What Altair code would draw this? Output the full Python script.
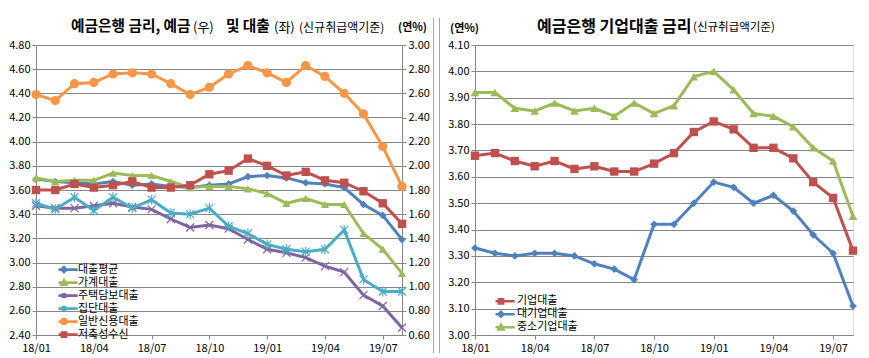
import altair as alt
import pandas as pd

months = ["18/01", "18/02", "18/03", "18/04", "18/05", "18/06", "18/07", "18/08", "18/09", "18/10",
          "18/11", "18/12", "19/01", "19/02", "19/03", "19/04", "19/05", "19/06", "19/07", "19/08"]
tick_months = ["18/01", "18/04", "18/07", "18/10", "19/01", "19/04", "19/07"]

# left panel (loans on left axis, deposits on right axis)
loan_avg = [3.69, 3.67, 3.66, 3.65, 3.67, 3.64, 3.65, 3.63, 3.62, 3.64, 3.65, 3.71, 3.72, 3.70, 3.66, 3.65, 3.62, 3.48, 3.39, 3.19]
household = [3.70, 3.67, 3.68, 3.68, 3.74, 3.72, 3.72, 3.67, 3.62, 3.63, 3.63, 3.61, 3.57, 3.49, 3.53, 3.48, 3.48, 3.24, 3.11, 2.91]
mortgage = [3.47, 3.45, 3.45, 3.47, 3.49, 3.46, 3.44, 3.36, 3.29, 3.31, 3.28, 3.19, 3.11, 3.08, 3.04, 2.97, 2.92, 2.73, 2.64, 2.46]
group_loan = [3.49, 3.44, 3.54, 3.43, 3.54, 3.45, 3.52, 3.41, 3.40, 3.45, 3.30, 3.24, 3.15, 3.11, 3.09, 3.11, 3.27, 2.86, 2.76, 2.76]
credit_loan = [4.39, 4.34, 4.48, 4.49, 4.56, 4.57, 4.56, 4.48, 4.39, 4.45, 4.56, 4.63, 4.57, 4.49, 4.63, 4.54, 4.40, 4.23, 3.96, 3.63]
savings = [1.80, 1.80, 1.85, 1.82, 1.84, 1.87, 1.82, 1.82, 1.84, 1.93, 1.96, 2.06, 2.00, 1.92, 1.95, 1.88, 1.86, 1.79, 1.69, 1.52]

# right panel (corporate loans)
corp = [3.68, 3.69, 3.66, 3.64, 3.66, 3.63, 3.64, 3.62, 3.62, 3.65, 3.69, 3.77, 3.81, 3.78, 3.71, 3.71, 3.67, 3.58, 3.52, 3.32]
large_corp = [3.33, 3.31, 3.30, 3.31, 3.31, 3.30, 3.27, 3.25, 3.21, 3.42, 3.42, 3.50, 3.58, 3.56, 3.50, 3.53, 3.47, 3.38, 3.31, 3.11]
sme = [3.92, 3.92, 3.86, 3.85, 3.88, 3.85, 3.86, 3.83, 3.88, 3.84, 3.87, 3.98, 4.00, 3.93, 3.84, 3.83, 3.79, 3.71, 3.66, 3.45]

left_names = ["대출평균", "가계대출", "주택담보대출", "집단대출", "일반신용대출", "저축성수신"]
right_names = ["기업대출", "대기업대출", "중소기업대출"]
left_ticks = [2.4, 2.6, 2.8, 3.0, 3.2, 3.4, 3.6, 3.8, 4.0, 4.2, 4.4, 4.6, 4.8]
right_axis_ticks = [0.6, 0.8, 1.0, 1.2, 1.4, 1.6, 1.8, 2.0, 2.2, 2.4, 2.6, 2.8, 3.0]
corp_ticks = [3.0, 3.1, 3.2, 3.3, 3.4, 3.5, 3.6, 3.7, 3.8, 3.9, 4.0, 4.1]

BLUE, RED, GREEN, PURPLE, TEAL, ORANGE = "#4F81BD", "#C0504D", "#9BBB59", "#8064A2", "#4BACC6", "#F79646"
GRID = "#868686"
FONT = "Noto Sans CJK KR"

X_SHAPE = "M-1,-1L1,1M-1,1L1,-1"
STAR_SHAPE = "M-1,-1L1,1M-1,1L1,-1M0,-1.25L0,1.25"


def long_df(names, arrays):
    rows = []
    for n, arr in zip(names, arrays):
        for m, v in zip(months, arr):
            rows.append({"month": m, "series": n, "value": v})
    return pd.DataFrame(rows)


left_df = long_df(left_names[:5], [loan_avg, household, mortgage, group_loan, credit_loan])
sav_df = long_df(left_names[5:], [savings])
right_df = long_df(right_names, [corp, large_corp, sme])

x_enc = alt.X("month:N", sort=months, title=None,
              scale=alt.Scale(type="point", padding=0),
              axis=alt.Axis(values=tick_months, labelAngle=0, labelFont=FONT, labelFontSize=11,
                            labelColor="#000000", domainColor=GRID, tickColor=GRID, tickSize=4,
                            labelPadding=3, grid=False))


def y_enc(domain, ticks, orient="left", grid=True):
    return alt.Y("value:Q", title=None,
                 scale=alt.Scale(domain=domain, nice=False, zero=False),
                 axis=alt.Axis(values=ticks, format=".2f", orient=orient, grid=grid, gridColor=GRID,
                               gridWidth=1, domainColor=GRID, tickColor=GRID, tickSize=4,
                               labelFont=FONT, labelFontSize=11, labelColor="#000000", labelPadding=2))


def series(df, name, color, shape, size, filled, y):
    base = alt.Chart(df).transform_filter(alt.datum.series == name)
    line = base.mark_line(color=color, strokeWidth=3).encode(x=x_enc, y=y)
    if filled:
        pts = base.mark_point(shape=shape, filled=True, color=color, size=size, opacity=1).encode(x=x_enc, y=y)
    else:
        pts = base.mark_point(shape=shape, filled=False, color=color, size=size, opacity=1,
                              strokeWidth=1.2).encode(x=x_enc, y=y)
    return [line, pts]


def leg_path(marker):
    return "M-3.9,0H3.9" + marker


DIAM = "M0,-0.7L0.7,0L0,0.7L-0.7,0Z"
TRI = "M0,-0.7L0.7,0.6H-0.7Z"
XM = "M-0.6,-0.6L0.6,0.6M-0.6,0.6L0.6,-0.6"
STAR = "M-0.6,-0.6L0.6,0.6M-0.6,0.6L0.6,-0.6M0,-0.8V0.8"
CIRC = "M-0.7,0A0.7,0.7,0,1,0,0.7,0A0.7,0.7,0,1,0,-0.7,0Z"
SQ = "M-0.6,-0.6H0.6V0.6H-0.6Z"


def legend_layer(df, names, colors, paths, lx, ly, row_h, laboff):
    lg = alt.Legend(title=None, orient="none", legendX=lx, legendY=ly, padding=0,
                    labelFont=FONT, labelFontSize=11, labelColor="#000000",
                    symbolSize=49, symbolStrokeWidth=2.6, labelOffset=laboff,
                    rowPadding=0, clipHeight=row_h)
    return alt.Chart(df).mark_point(filled=True, size=49, strokeWidth=2.6, opacity=1).encode(
        fill=alt.Fill("series:N", scale=alt.Scale(domain=names, range=colors), legend=lg),
        stroke=alt.Stroke("series:N", scale=alt.Scale(domain=names, range=colors), legend=lg),
        shape=alt.Shape("series:N", scale=alt.Scale(domain=names, range=paths), legend=lg),
    ).transform_filter("false")


def text_layer(txt, x, y, size, bold):
    return alt.Chart(pd.DataFrame({"t": [txt]})).mark_text(
        align="left", baseline="middle", font=FONT, fontSize=size,
        fontWeight="bold" if bold else "normal", color="#000000"
    ).encode(text="t:N", x=alt.value(x), y=alt.value(y))


def border_rule(x):
    return alt.Chart(pd.DataFrame({"a": [0]})).mark_rule(color="#A6A6A6", strokeWidth=1).encode(
        x=alt.value(x), y=alt.value(-27), y2=alt.value(308))


# ---------- left panel ----------
yl = y_enc([2.4, 4.8], left_ticks)
yr = y_enc([0.6, 3.0], right_axis_ticks, orient="right", grid=False)

left_layers = []
left_layers += series(left_df, "대출평균", BLUE, "diamond", 60, True, yl)
left_layers += series(left_df, "가계대출", GREEN, "triangle-up", 70, True, yl)
left_layers += series(left_df, "주택담보대출", PURPLE, X_SHAPE, 64, False, yl)
left_layers += series(left_df, "집단대출", TEAL, STAR_SHAPE, 64, False, yl)
left_layers += series(left_df, "일반신용대출", ORANGE, "circle", 85, True, yl)
left_layers.append(legend_layer(left_df, left_names, [BLUE, GREEN, PURPLE, TEAL, ORANGE, RED],
                                [leg_path(p) for p in [DIAM, TRI, XM, STAR, CIRC, SQ]], 22.5, 219, 11.2, 8.5))
left_layers += [
    text_layer("예금은행 금리, 예금", 35, -18, 14.7, True),
    text_layer("(우)", 157, -17, 13, False),
    text_layer("및 대출", 190, -18, 14.7, True),
    text_layer("(좌)", 238, -17, 13, False),
    text_layer("(신규취급액기준)", 263, -17, 12, False),
    text_layer("(연%)", 362, -17, 11, True),
    border_rule(397.5),
]
left_main = alt.layer(*left_layers)
right_axis_part = alt.layer(*series(sav_df, "저축성수신", RED, "square", 70, True, yr))
left_panel = alt.layer(left_main, right_axis_part).resolve_scale(y="independent").properties(width=366, height=290)

# ---------- right panel ----------
yc = y_enc([3.0, 4.1], corp_ticks)
right_layers = []
right_layers += series(right_df, "기업대출", RED, "square", 70, True, yc)
right_layers += series(right_df, "대기업대출", BLUE, "diamond", 60, True, yc)
right_layers += series(right_df, "중소기업대출", GREEN, "triangle-up", 75, True, yc)
right_layers.append(legend_layer(right_df, right_names, [RED, BLUE, GREEN],
                                 [leg_path(p) for p in [SQ, DIAM, TRI]], 20.5, 250, 12.6, 10.5))
right_layers += [
    text_layer("(연%)", -25, -16, 11, True),
    text_layer("예금은행 기업대출 금리", 62, -18, 16, True),
    text_layer("(신규취급액기준)", 218, -17, 11.5, False),
    border_rule(-35.5),
]
right_panel = alt.layer(*right_layers).properties(width=378, height=290)

chart = alt.hconcat(left_panel, right_panel, spacing=3).resolve_scale(
    fill="independent", stroke="independent", shape="independent"
).resolve_legend(fill="independent", stroke="independent", shape="independent").properties(
    padding={"left": 0, "top": 9, "right": 0, "bottom": 0}
).configure_view(stroke=None).configure(font=FONT)

chart.save("out.html", embed_options={"renderer": "svg", "actions": False})
